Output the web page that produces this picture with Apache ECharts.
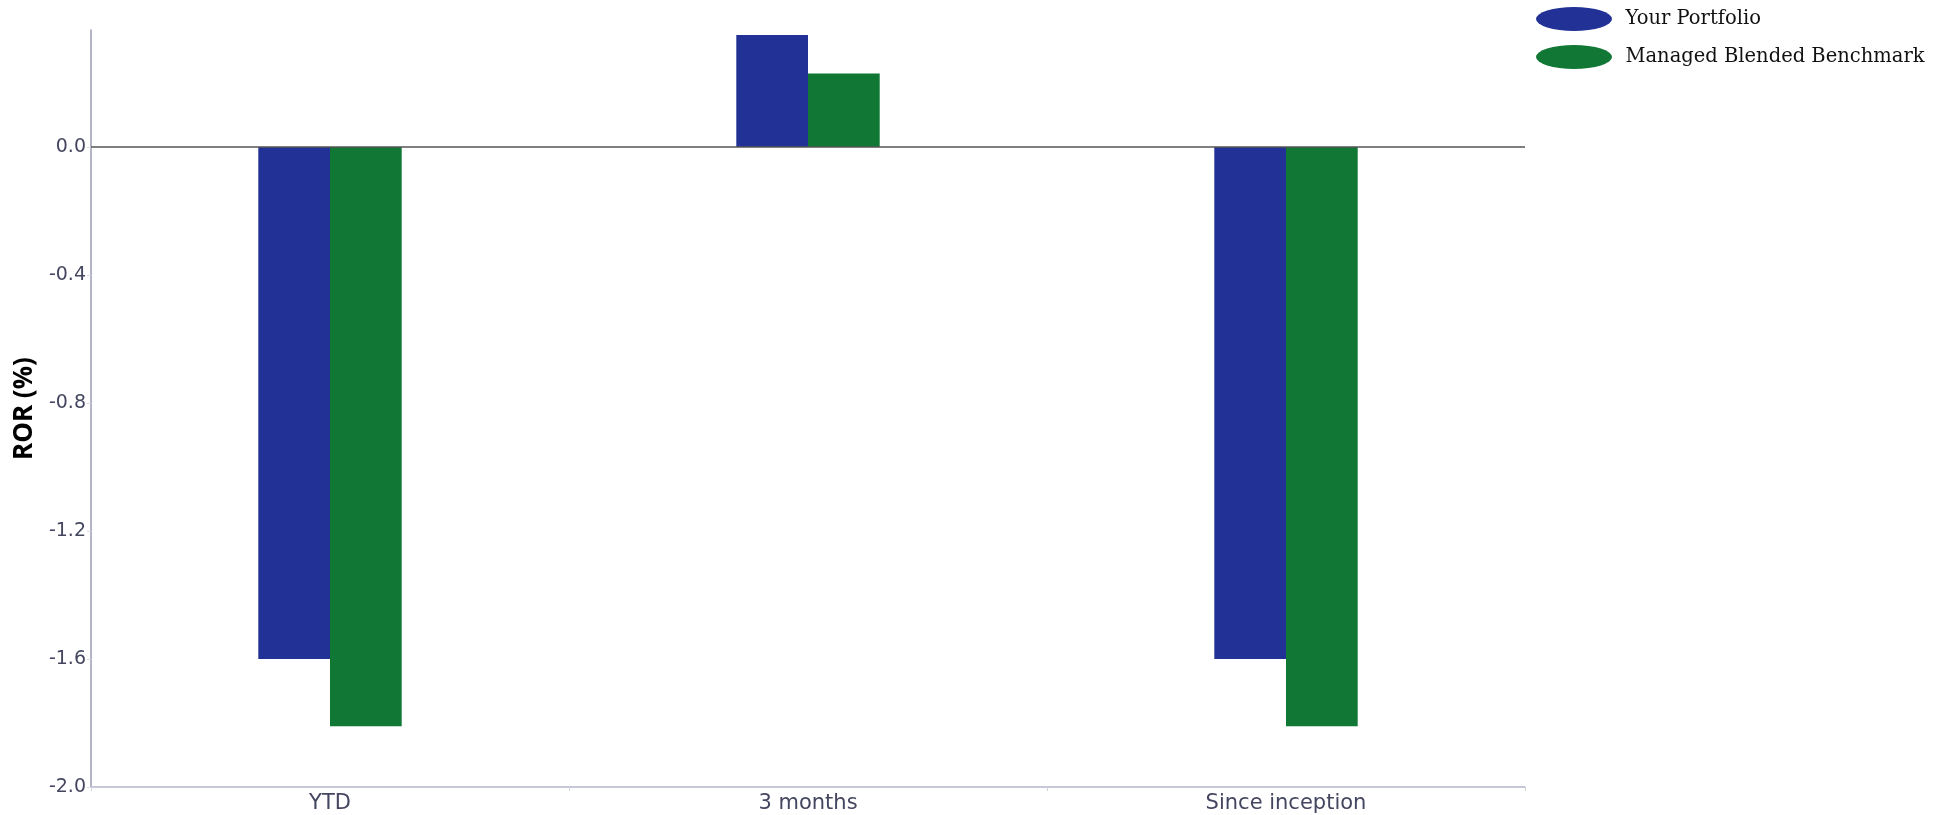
<!DOCTYPE html>
<html>
<head>
<meta charset="utf-8">
<script src="https://cdn.jsdelivr.net/npm/echarts@6/dist/echarts.min.js"></script>
<style>html,body{margin:0;padding:0;background:#fff}#c{width:1944px;height:815px}</style>
</head>
<body>
<div id="c"></div>
<script>
const categories = ['YTD', '3 months', 'Since inception'];
const portfolio = [-1.60, 0.35, -1.60];
const benchmark = [-1.81, 0.23, -1.81];
const seriesNames = ['Your Portfolio', 'Managed Blended Benchmark'];
const yTicks = { min: -2.0, max: 0.366, interval: 0.4 };

const ellipse = 'path://M0,12A38,12 0 1,1 76,12A38,12 0 1,1 0,12Z';
const chart = echarts.init(document.getElementById('c'));
chart.setOption({
  animation: false,
  grid: { left: 91, right: 419, top: 30, bottom: 28, containLabel: false },
  legend: {
    orient: 'vertical', left: 1531, top: 2, itemWidth: 77, itemHeight: 24, itemGap: 14,
    textStyle: { fontFamily: 'DejaVu Serif', fontSize: 19.5, color: '#111', padding: [0, 0, 0, 8] },
    data: [{ name: seriesNames[0], icon: ellipse }, { name: seriesNames[1], icon: ellipse }]
  },
  xAxis: {
    type: 'category', data: categories,
    axisLine: { onZero: false, lineStyle: { color: '#b4b6cc', width: 1.5 } },
    axisTick: { show: true, length: 4, lineStyle: { color: '#d0d2dc' } },
    axisLabel: { fontFamily: 'DejaVu Sans', fontSize: 21, color: '#444660', margin: 6 }
  },
  yAxis: {
    type: 'value', min: yTicks.min, max: yTicks.max, interval: yTicks.interval,
    name: 'ROR (%)', nameLocation: 'middle', nameGap: 48,
    nameTextStyle: { fontFamily: 'Open Sans', fontWeight: 'bold', fontSize: 26, color: '#000' },
    axisLine: { show: true, lineStyle: { color: '#9a9cb5', width: 1.5 } },
    axisTick: { show: true, length: 4, lineStyle: { color: '#dcdde4' } },
    splitLine: { show: false },
    axisLabel: { fontFamily: 'DejaVu Sans', fontSize: 19, color: '#444660', margin: 5, showMaxLabel: false,
      formatter: v => v.toFixed(1) }
  },
  series: [
    { name: seriesNames[0], type: 'bar', data: portfolio, barGap: '0%', barCategoryGap: '70%',
      itemStyle: { color: '#213196' },
      markLine: { silent: true, symbol: 'none', label: { show: false },
        lineStyle: { color: '#555', width: 1.5, type: 'solid' }, data: [{ yAxis: 0 }] } },
    { name: seriesNames[1], type: 'bar', data: benchmark, barGap: '0%', barCategoryGap: '70%',
      itemStyle: { color: '#107735' } }
  ]
});
</script>
</body>
</html>
